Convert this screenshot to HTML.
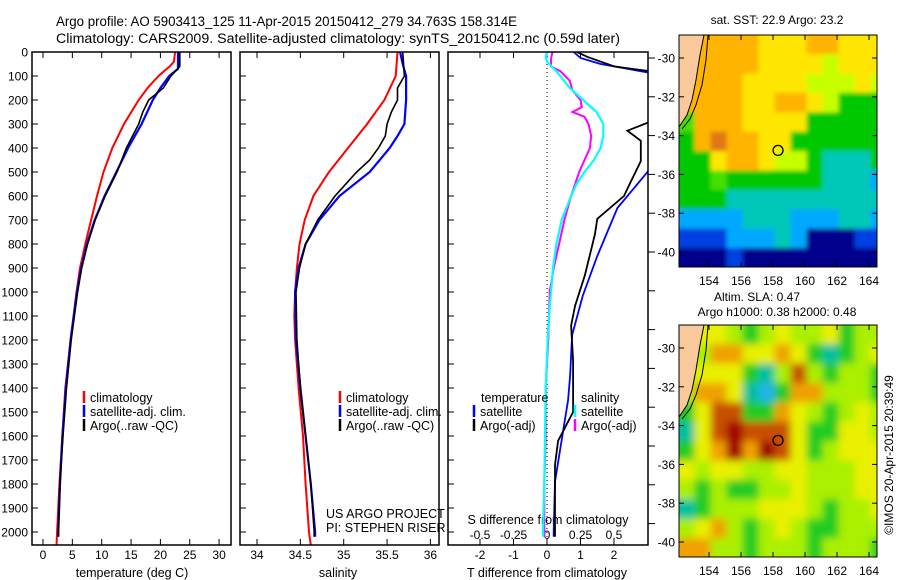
<!DOCTYPE html>
<html><head><meta charset="utf-8"><style>
body{margin:0;background:#fff;}
svg{display:block;font-family:"Liberation Sans",sans-serif;}
</style></head><body>
<svg id="c" width="900" height="580" viewBox="0 0 900 580" xmlns="http://www.w3.org/2000/svg">
<text x="56" y="26" font-size="13.5" textLength="461" lengthAdjust="spacingAndGlyphs">Argo profile: AO 5903413_125 11-Apr-2015 20150412_279 34.763S 158.314E</text>
<text x="56" y="43" font-size="13.5" textLength="564" lengthAdjust="spacingAndGlyphs">Climatology: CARS2009. Satellite-adjusted climatology: synTS_20150412.nc (0.59d later)</text>
<defs>
<filter id="blurS" x="-5%" y="-5%" width="110%" height="110%"><feGaussianBlur stdDeviation="2"/></filter>
<filter id="blurL" x="-5%" y="-5%" width="110%" height="110%"><feGaussianBlur stdDeviation="4"/></filter>
</defs>
<g id="g"></g>
</svg>
<script>
// ---- data ----
const depthTicks=[0,100,200,300,400,500,600,700,800,900,1000,1100,1200,1300,1400,1500,1600,1700,1800,1900,2000];
const tTicks=[0,5,10,15,20,25,30];
const sTicks=[34,34.5,35,35.5,36];
const dtTicks=[-2,-1,0,1,2];
const dsTicks=[-0.5,-0.25,0,0.25,0.5];
const dsTickLabels=["-0.5","-0.25","0","0.25","0.5"];
const tClimD=[0,40,60,80,100,150,200,300,400,500,600,700,800,900,1000,1200,1400,1600,1800,2000,2055];
const tClim=[22.5,22.3,21.6,20.6,19.7,17.8,16.3,13.8,11.8,10.3,9.2,8.2,7.2,6.3,5.7,4.7,3.8,3.3,2.8,2.4,2.3];
const tSatD=[0,70,100,150,200,300,400,500,600,700,800,900,1000,1200,1400,1600,1800,2000,2020];
const tSat=[23.0,23.0,21.5,20.0,18.7,16.8,14.5,12.5,10.5,8.8,7.5,6.5,5.8,4.7,3.9,3.3,2.9,2.6,2.6];
const tArgoD=[0,60,100,150,200,250,300,400,500,600,700,800,900,1000,1200,1400,1600,1800,2000,2020];
const tArgo=[23.3,23.3,21.8,20.5,18.0,17.0,16.3,14.2,12.6,10.6,8.9,7.6,6.6,5.9,4.8,4.0,3.4,2.9,2.6,2.6];
const sClimD=[0,100,200,300,400,500,600,700,800,900,1000,1100,1200,1400,1600,1800,2000,2055];
const sClim=[35.62,35.6,35.47,35.27,35.05,34.83,34.65,34.55,34.49,34.46,34.44,34.43,34.44,34.48,34.53,34.56,34.6,34.62];
const sSatD=[0,50,100,200,300,350,400,500,600,700,800,900,1000,1200,1400,1600,1800,2000,2020];
const sSat=[35.65,35.68,35.72,35.72,35.7,35.62,35.53,35.3,34.95,34.72,34.56,34.48,34.44,34.45,34.5,34.56,34.62,34.67,34.67];
const sArgoD=[0,100,150,200,250,300,350,400,450,500,600,700,800,900,1000,1200,1400,1600,1800,2000,2020];
const sArgo=[35.68,35.7,35.62,35.62,35.55,35.5,35.48,35.4,35.3,35.15,34.9,34.7,34.56,34.49,34.45,34.46,34.5,34.56,34.62,34.66,34.66];
const dtSatD=[0,25,50,70,85,100,400,500,650,850,1015,1180,1350,1450,1790,2000,2020];
const dtSat=[0.8,1.0,1.6,2.4,3.0,3.5,3.4,3.0,2.1,1.5,1.07,0.75,0.69,0.63,0.24,0.2,0.2];
const dtArgoD=[0,20,60,75,80,100,280,295,328,370,455,540,600,695,760,930,1057,1140,1285,1420,1500,1620,1720,2000,2020];
const dtArgo=[0.9,1.2,2.0,2.8,3.1,3.5,3.5,3.0,2.4,2.8,2.8,2.5,2.3,1.5,1.43,1.13,0.84,0.72,0.78,0.78,0.78,0.33,0.24,0.24,0.24];
const dsSatD=[0,20,40,80,150,200,250,300,350,400,450,500,550,600,700,800,900,1000,1100,1200,1400,1600,1800,2000,2020];
const dsSat=[0.0,-0.01,0.0,0.07,0.17,0.27,0.37,0.42,0.42,0.40,0.35,0.28,0.22,0.18,0.11,0.07,0.045,0.03,0.015,0.005,-0.01,-0.015,-0.02,-0.03,-0.03];
const dsArgoD=[0,30,60,80,120,160,200,230,250,270,300,350,400,450,500,600,700,800,900,1000,1200,1400,1600,1800,2000,2020];
const dsArgo=[0.04,0.03,0.03,0.1,0.17,0.19,0.25,0.26,0.19,0.28,0.31,0.33,0.32,0.28,0.24,0.18,0.13,0.09,0.05,0.02,0.01,-0.01,-0.01,-0.02,-0.02,-0.02];
const lonTicks=[154,156,158,160,162,164];
const latTicks=[-30,-32,-34,-36,-38,-40];
const sstGrid=[
[-1,8,8,8,8,7,7,7,8,8,7,7,7],
[-1,8,8,8,8,7,7,7,7,6,7,7,7],
[8,8,8,8,7,7,7,7,6,6,6,7,6],
[8,8,8,8,7,7,8,8,7,6,4,4,4],
[5,8,8,8,7,7,7,7,4,4,4,4,4],
[4,8,9,8,8,7,7,4,4,4,4,4,4],
[4,4,7,8,8,7,6,6,4,3,3,3,4],
[4,4,5,4,4,4,4,4,4,3,3,3,2],
[4,4,4,3,3,3,3,3,3,3,3,3,3],
[2,2,2,2,3,3,3,2,2,2,3,3,2],
[1,1,1,2,2,2,3,2,0,0,0,1,1],
[0,0,0,1,0,0,0,0,0,0,0,0,0]];
const slaGrid=[
[-1,6,6,5,4,5,6,5,5,6,4,5,5],
[-1,5,7,7,6,6,7,6,4,3,4,5,6],
[5,6,6,6,4,3,5,8,5,4,5,5,4],
[5,7,7,6,3,2,4,7,7,5,5,5,4],
[4,6,8,8,4,4,7,6,5,4,5,6,5],
[3,6,8,9,8,8,8,6,4,4,6,6,5],
[4,6,7,9,7,9,8,6,4,5,6,6,6],
[6,5,6,6,5,5,6,6,5,5,5,6,6],
[5,4,5,4,4,5,5,6,5,5,5,6,6],
[3,4,5,5,5,6,6,6,5,4,5,5,6],
[5,6,7,5,4,5,6,5,4,4,5,5,5],
[7,7,5,5,4,5,5,5,4,5,5,5,4]];
const argoLon=158.314, argoLat=-34.763;
// ---- drawing ----
const NS="http://www.w3.org/2000/svg";
const G=document.getElementById('g');
function mk(tag,at,parent){const e=document.createElementNS(NS,tag);for(const k in at)e.setAttribute(k,at[k]);(parent||G).appendChild(e);return e;}
const Y0=52,Y1=545,PPM=0.24;
const yD=d=>Y0+d*PPM;
const panels=[{x0:32,x1:231},{x0:240,x1:439},{x0:448,x1:648}];
const xT=t=>43+t*5.87;
const xS=s=>257+(s-34)*86.7;
const xDT=t=>547+t*33.5;
const xDS=s=>547+s*134;
let defs=mk('defs',{});
panels.forEach((p,i)=>{const cp=mk('clipPath',{id:'cp'+i},defs);mk('rect',{x:p.x0,y:Y0,width:p.x1-p.x0,height:Y1-Y0},cp);});
function frame(i,name){const p=panels[i];const r=mk('rect',{x:p.x0,y:Y0,width:p.x1-p.x0,height:Y1-Y0,fill:'none',stroke:'#000','stroke-width':1.5});

}
function line(i,ds,vs,fx,col,w,name){const pts=ds.map((d,k)=>fx(vs[k]).toFixed(1)+','+yD(d).toFixed(1)).join(' ');
const e=mk('polyline',{points:pts,fill:'none',stroke:col,'stroke-width':w,'clip-path':'url(#cp'+i+')'});

}
function txt(x,y,s,size,anchor,name,extra){const e=mk('text',Object.assign({x:x,y:y,'font-size':size,'text-anchor':anchor||'start'},extra||{}));e.textContent=s;

return e;}
depthTicks.forEach(d=>{const y=yD(d);
txt(28,y+4.5,String(d),12,'end','depth-tick-label');
panels.forEach((p,i)=>{mk('line',{x1:p.x0,x2:p.x0+6,y1:y,y2:y,stroke:'#000'});});});
for(let k=0;k<13;k++){const y=58+k*38.8;if(y<Y1)mk('line',{x1:648,x2:655,y1:y,y2:y,stroke:'#000'});}
function xticks(vals,fx,labs,name){vals.forEach((v,k)=>{const x=fx(v);mk('line',{x1:x,x2:x,y1:Y1,y2:Y1-6,stroke:'#000'});mk('line',{x1:x,x2:x,y1:Y0,y2:Y0+6,stroke:'#000'});
txt(x,559,labs?labs[k]:String(v),12,'middle',name);});}
xticks(tTicks,xT,null,'temperature-tick-label');
xticks(sTicks,xS,null,'salinity-tick-label');
xticks(dtTicks,xDT,null,'t-diff-tick-label');
dsTicks.forEach((v,k)=>{const x=xDS(v);mk('line',{x1:x,x2:x,y1:Y1,y2:Y1-5,stroke:'#000'});txt(x,539,dsTickLabels[k],12,'middle','s-diff-tick-label');});
txt(132,577,'temperature (deg C)',12.5,'middle','temperature-axis-title');
txt(338,577,'salinity',12.5,'middle','salinity-axis-title');
txt(547,577,'T difference from climatology',12.5,'middle','t-diff-axis-title');
txt(548,524,'S difference from climatology',12.5,'middle','s-diff-axis-title');
mk('line',{x1:xDT(0),x2:xDT(0),y1:Y0,y2:Y1,stroke:'#000','stroke-dasharray':'1,3'});
line(0,tClimD,tClim,xT,'#ff0000',2,'temp-climatology-line');
line(0,tSatD,tSat,xT,'#0000ff',2.2,'temp-satellite-line');
line(0,tArgoD,tArgo,xT,'#000',1.6,'temp-argo-line');
line(1,sClimD,sClim,xS,'#ff0000',2,'sal-climatology-line');
line(1,sSatD,sSat,xS,'#0000ff',2.2,'sal-satellite-line');
line(1,sArgoD,sArgo,xS,'#000',1.6,'sal-argo-line');
line(2,dsArgoD,dsArgo,xDS,'#ff00ff',2,'sdiff-argo-line');
line(2,dsSatD,dsSat,xDS,'#00ffff',2.2,'sdiff-satellite-line');
line(2,dtSatD,dtSat,xDT,'#0000ff',1.8,'tdiff-satellite-line');
line(2,dtArgoD,dtArgo,xDT,'#000',1.8,'tdiff-argo-line');
frame(0,'temperature-panel');frame(1,'salinity-panel');frame(2,'difference-panel');
function leg(x,y,col,s,name){mk('line',{x1:x,x2:x,y1:y-11,y2:y+1,stroke:col,'stroke-width':2.5});txt(x+6,y,s,12.5,'start',name);}
[[84,0],[340,0]].forEach(([x])=>{leg(x,402,'#ff0000','climatology','legend-climatology');leg(x,416,'#0000ff','satellite-adj. clim.','legend-satellite');leg(x,430,'#000','Argo(..raw -QC)','legend-argo');});
txt(481,402,'temperature',12.5,'start','legend-temperature-header');
leg(474,416,'#0000ff','satellite','legend-t-satellite');leg(474,430,'#000','Argo(-adj)','legend-t-argo');
txt(581,402,'salinity',12.5,'start','legend-salinity-header');
leg(575,416,'#00ffff','satellite','legend-s-satellite');leg(575,430,'#ff00ff','Argo(-adj)','legend-s-argo');
txt(326,518,'US ARGO PROJECT',12.5,'start','credit-project');
txt(326,532,'PI: STEPHEN RISER',12.5,'start','credit-pi');
const MX0=679,MX1=877,PPD=16,PPL=19.4;
const xL=l=>709+(l-154)*PPD;
function drawMap(y0,grid,colors,name,cpid,filt){const yLat=la=>y0+23+(-30-la)*PPL;
const cp=mk('clipPath',{id:cpid},defs);mk('rect',{x:MX0,y:y0,width:MX1-MX0,height:232},cp);
const outer=mk('g',{'clip-path':'url(#'+cpid+')'});


const g=mk('g',{filter:'url(#'+filt+')'},outer);
grid.forEach((row,j)=>row.forEach((v,i)=>{
let c=v<0?(row[i+1]>=0?colors[row[i+1]]:colors[6]):colors[v];
const x=xL(152.1+i)-(i==0?12:0),y=yLat(-28.8-j)-(j==0?12:0);
const r=mk('rect',{x:x.toFixed(1),y:y.toFixed(1),width:PPD+0.6+(i==0||i==12?12:0),height:PPL+0.6+(j==0||j==11?12:0),fill:c},g);

}));
const land=mk('polygon',{points:`${MX0},${y0} 704,${y0} 700,${y0+20} 696,${y0+45} 692,${y0+65} 687,${y0+80} ${MX0},${y0+92}`,fill:'#f9c89b'},outer);


mk('polyline',{points:`704,${y0} 700,${y0+20} 696,${y0+45} 692,${y0+65} 687,${y0+80} ${MX0},${y0+92}`,fill:'none',stroke:'#000'},outer);
mk('polyline',{points:`708,${y0} 706,${y0+25} 702,${y0+50} 696,${y0+70} 690,${y0+84} 682,${y0+94}`,fill:'none',stroke:'#000'},outer);
const c=mk('circle',{cx:xL(argoLon),cy:yLat(argoLat),r:5,fill:'none',stroke:'#000','stroke-width':1.3});


mk('rect',{x:MX0,y:y0,width:MX1-MX0,height:232,fill:'none',stroke:'#000'});
lonTicks.forEach(l=>{const x=xL(l);mk('line',{x1:x,x2:x,y1:y0+232,y2:y0+227,stroke:'#000'});mk('line',{x1:x,x2:x,y1:y0,y2:y0+5,stroke:'#000'});txt(x,y0+250,String(l),12,'middle','lon-tick-label');});
latTicks.forEach(la=>{const y=yLat(la);mk('line',{x1:MX1,x2:MX1-5,y1:y,y2:y,stroke:'#000'});mk('line',{x1:MX0,x2:MX0+5,y1:y,y2:y,stroke:'#000'});txt(675,y+4.5,String(la),12,'end','lat-tick-label');});}
drawMap(35,sstGrid,['#00008c','#0040e0','#00a8ff','#00c8b8','#00c800','#44e000','#c8ff00','#ffe600','#ffb400','#e07818'],'sst-map','cpm1','blurS');
drawMap(325,slaGrid,['#0000a0','#0060e0','#20b4e8','#00c0a0','#22cc22','#aaf000','#e8f000','#f0a000','#c85000','#a00000'],'sla-map','cpm2','blurL');
txt(777,24,'sat. SST: 22.9 Argo: 23.2',12,'middle','sst-map-title');
txt(757,301,'Altim. SLA: 0.47',12,'middle','sla-map-title');
txt(777,316,'Argo h1000: 0.38 h2000: 0.48',12,'middle','sla-map-subtitle');
txt(0,0,'©IMOS 20-Apr-2015 20:39:49',12,'middle','timestamp',{transform:'translate(893,455) rotate(-90)'});
</script>
</body></html>
